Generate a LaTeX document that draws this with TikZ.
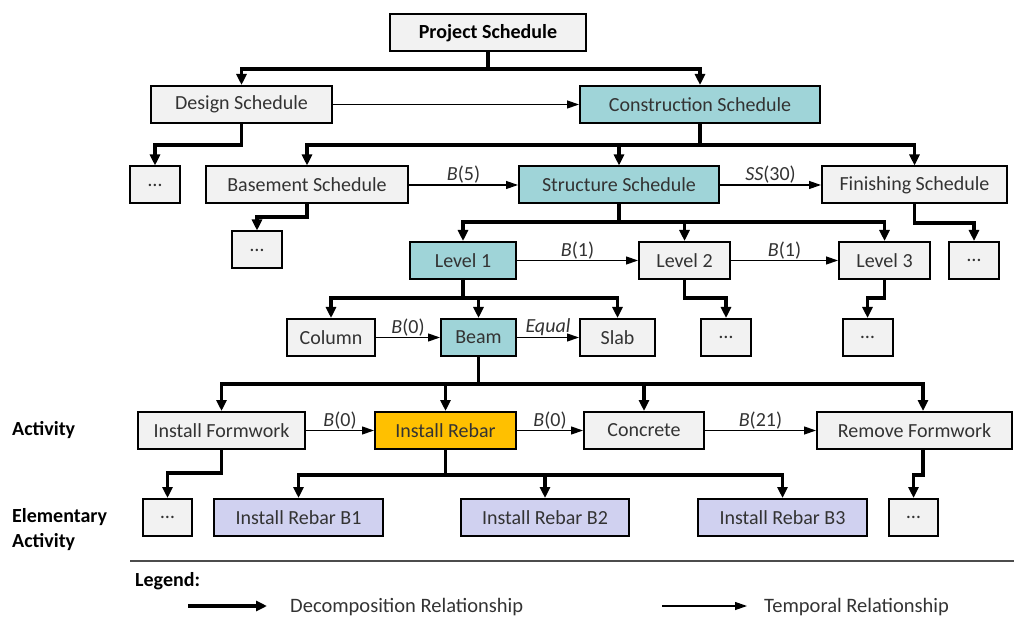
\documentclass[tikz,border=0pt]{standalone}
\usepackage{fontspec}
\setmainfont{Carlito}
\usepackage{xcolor}
\usepackage{tikz}
\usetikzlibrary{arrows.meta, positioning}

\definecolor{boxgray}{HTML}{F2F2F2}
\definecolor{boxteal}{HTML}{9FD4D8}
\definecolor{boxorange}{HTML}{FFC000}
\definecolor{boxlilac}{HTML}{D0D1F0}
\definecolor{txtgray}{HTML}{333333}

\begin{document}
\begin{tikzpicture}[x=1pt, y=-1pt,
			box/.style={rectangle, draw=black, line width=2pt, fill=boxgray, minimum height=37pt, inner sep=2pt, text=txtgray, font=\fontsize{20}{24}\selectfont},
			tealbox/.style={box, fill=boxteal},
			orangebox/.style={box, fill=boxorange},
			lilacbox/.style={box, fill=boxlilac},
			decomp/.style={-{Triangle[length=11pt, width=10pt]}, line width=3.5pt},
			temporal/.style={-{Triangle[length=12pt, width=8pt]}, line width=1.2pt},
			lbl/.style={above, inner sep=1pt, text=txtgray, font=\fontsize{20}{24}\selectfont},
			side/.style={anchor=west, align=left, inner sep=0pt, font=\fontsize{20}{25}\selectfont\bfseries}
			]
			\useasboundingbox (0,0) rectangle (1014,617);
			
			% Projet et phases
			\node[box, minimum width=196pt, text=black, font=\fontsize{20}{24}\selectfont\bfseries] (project) at (488,33) {Project Schedule};
			\node[box, minimum width=181pt] (design) at (241.5,104.5) {Design Schedule};
			\node[tealbox, minimum width=240pt] (construction) at (700,104.5) {Construction Schedule};
			
			% Sous-projets
			\node[box, minimum width=50pt] (dots-design) at (155,185) {…};
			\node[box, minimum width=202pt] (basement) at (307,185) {Basement Schedule};
			\node[tealbox, minimum width=200pt] (structure) at (619,185) {Structure Schedule};
			\node[box, minimum width=185pt] (finishing) at (914.5,185) {Finishing Schedule};
			
			% Niveaux
			\node[box, minimum width=50pt] (dots-basement) at (257,250) {…};
			\node[tealbox, minimum width=106pt] (level1) at (463,260.5) {Level 1};
			\node[box, minimum width=91pt] (level2) at (684.5,260.5) {Level 2};
			\node[box, minimum width=91pt] (level3) at (884.5,260.5) {Level 3};
			\node[box, minimum width=50pt] (dots-finishing) at (974,260.5) {…};
			
			% Elements
			\node[box, minimum width=88pt] (column) at (331,337.5) {Column};
			\node[tealbox, minimum width=75pt] (beam) at (478.5,337.5) {Beam};
			\node[box, minimum width=75pt] (slab) at (617.5,337.5) {Slab};
			\node[box, minimum width=50pt] (dots-level2) at (726,337.5) {…};
			\node[box, minimum width=50pt] (dots-level3) at (867.5,337.5) {…};
			
			% Activites
			\node[box, minimum width=167pt] (formwork) at (221.5,430.5) {Install Formwork};
			\node[orangebox, minimum width=141pt] (rebar) at (445.5,430.5) {Install Rebar};
			\node[box, minimum width=120pt] (concrete) at (644,430.5) {Concrete};
			\node[box, minimum width=195pt] (remove) at (914.5,430.5) {Remove Formwork};
			
			% Activites elementaires
			\node[box, minimum width=49pt] (dots-formwork) at (167.5,517.5) {…};
			\node[lilacbox, minimum width=169pt] (rebar-b1) at (298.5,517.5) {Install Rebar B1};
			\node[lilacbox, minimum width=168pt] (rebar-b2) at (545,517.5) {Install Rebar B2};
			\node[lilacbox, minimum width=169pt] (rebar-b3) at (782.5,517.5) {Install Rebar B3};
			\node[box, minimum width=49pt] (dots-remove) at (913.5,517.5) {…};
			
			% Niveaux de la hierarchie
			\node[side] (activity) at (12,430) {Activity};
			\node[side] (elementary) at (12,530) {Elementary\\Activity};
			
			% Decomposition
			\draw[decomp] (project.south) -- (project.south |- 0,69) -| (design.north);
			\draw[decomp] (project.south |- 0,69) -| (construction.north);
			\draw[decomp] (design.south) -- (design.south |- 0,145) -| (dots-design.north);
			\draw[decomp] (construction.south) -- (construction.south |- 0,145) -| (basement.north);
			\draw[decomp] (construction.south |- 0,145) -| (structure.north);
			\draw[decomp] (construction.south |- 0,145) -| (finishing.north);
			\draw[decomp] (basement.south) -- (basement.south |- 0,217) -| (dots-basement.north);
			\draw[decomp] (structure.south) -- (structure.south |- 0,222) -| (level1.north);
			\draw[decomp] (structure.south |- 0,222) -| (level2.north);
			\draw[decomp] (structure.south |- 0,222) -| (level3.north);
			\draw[decomp] (finishing.south) -- (finishing.south |- 0,223) -| (dots-finishing.north);
			\draw[decomp] (level1.south) -- (level1.south |- 0,298) -| (column.north);
			\draw[decomp] (level1.south |- 0,298) -| (beam.north);
			\draw[decomp] (level1.south |- 0,298) -| (slab.north);
			\draw[decomp] (level2.south) -- (level2.south |- 0,298) -| (dots-level2.north);
			\draw[decomp] (level3.south) -- (level3.south |- 0,298) -| (dots-level3.north);
			\draw[decomp] (beam.south) -- (beam.south |- 0,384) -| (formwork.north);
			\draw[decomp] (beam.south |- 0,384) -| (rebar.north);
			\draw[decomp] (beam.south |- 0,384) -| (concrete.north);
			\draw[decomp] (beam.south |- 0,384) -| (remove.north -| 923,0);
			\draw[decomp] (formwork.south) -- (formwork.south |- 0,473) -| (dots-formwork.north);
			\draw[decomp] (rebar.south) -- (rebar.south |- 0,475) -| (rebar-b1.north);
			\draw[decomp] (rebar.south |- 0,475) -| (rebar-b2.north);
			\draw[decomp] (rebar.south |- 0,475) -| (rebar-b3.north);
			\draw[decomp] (remove.south -| 923,0) -- (923,475) -| (dots-remove.north);
			
			% Relations temporelles
			\draw[temporal] (design.east) -- (construction.west);
			\draw[temporal] (basement.east) -- node[lbl] {\textit{B}(5)} (structure.west);
			\draw[temporal] (structure.east) -- node[lbl] {\textit{SS}(30)} (finishing.west);
			\draw[temporal] (level1.east) -- node[lbl] {\textit{B}(1)} (level2.west);
			\draw[temporal] (level2.east) -- node[lbl] {\textit{B}(1)} (level3.west);
			\draw[temporal] (column.east) -- node[lbl] {\textit{B}(0)} (beam.west);
			\draw[temporal] (beam.east) -- node[lbl] {\textit{Equal}} (slab.west);
			\draw[temporal] (formwork.east) -- node[lbl] {\textit{B}(0)} (rebar.west);
			\draw[temporal] (rebar.east) -- node[lbl] {\textit{B}(0)} (concrete.west);
			\draw[temporal] (concrete.east) -- node[lbl] {\textit{B}(21)} (remove.west);
			
			% Legende
			\coordinate (rule-l) at (130,561);
			\coordinate (rule-r) at (1014,561);
			\draw[line width=1.2pt, black!70] (rule-l) -- (rule-r);
			\node[side] (legend) at (135,581) {Legend:};
			\coordinate (dec-a) at (188,606);
			\coordinate (dec-b) at (267,606);
			\draw[decomp] (dec-a) -- (dec-b);
			\node[lbl, anchor=west, font=\fontsize{20.5}{24}\selectfont] (dec-text) at (289,607) {Decomposition Relationship};
			\coordinate (tem-a) at (662,606);
			\coordinate (tem-b) at (747,606);
			\draw[temporal] (tem-a) -- (tem-b);
			\node[lbl, anchor=west, font=\fontsize{20.5}{24}\selectfont] (tem-text) at (763,607) {Temporal Relationship};
			
		\end{tikzpicture}
\end{document}
